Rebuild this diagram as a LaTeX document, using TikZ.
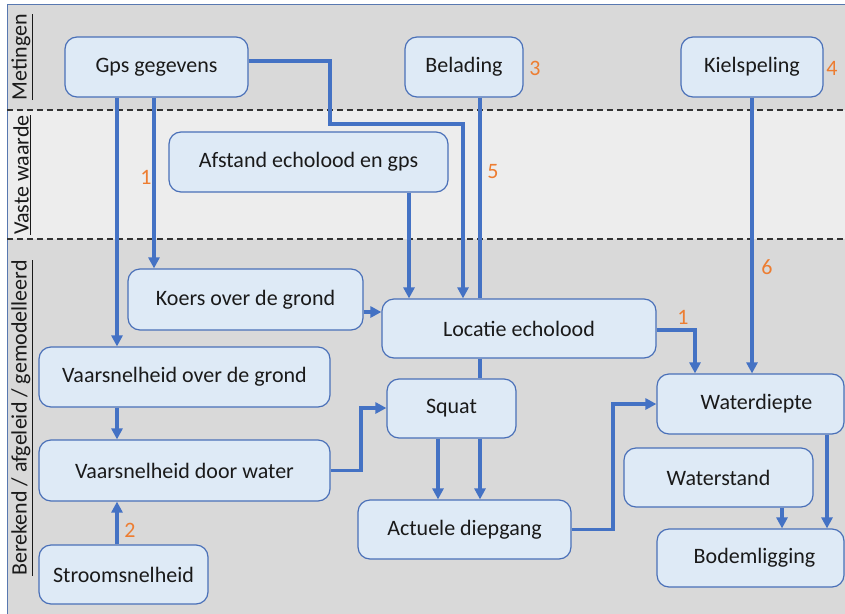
\documentclass[tikz,border=0pt]{standalone}
\usepackage{fontspec}
\setmainfont{Carlito}
\usepackage{xcolor}
\usetikzlibrary{arrows.meta}

\definecolor{bandgray}{HTML}{D9D9D9}
\definecolor{bandlight}{HTML}{EDEDED}
\definecolor{boxfill}{HTML}{DEEAF6}
\definecolor{boxline}{HTML}{4A70B8}
\definecolor{flowblue}{HTML}{4472C4}
\definecolor{numorange}{HTML}{ED7D31}
\definecolor{framecol}{HTML}{5878B0}
\definecolor{textdark}{HTML}{1A1A1A}

\begin{document}
\begin{tikzpicture}[x=1pt,y=-1pt,
  font=\fontsize{22}{26}\selectfont,
  stepbox/.style={draw=boxline,line width=1.2pt,fill=boxfill,rounded corners=12pt,
    text=textdark,inner sep=0pt,align=center},
  flow/.style={draw=flowblue,line width=3.2pt,-{Triangle[length=11pt,width=11pt]}},
  plainflow/.style={draw=flowblue,line width=3.2pt},
  num/.style={text=numorange,inner sep=0pt},
  bandlabel/.style={rotate=90,text=textdark,inner sep=0pt}]
\useasboundingbox (0,0) rectangle (845,613);
\clip (0,0) rectangle (845,613);

% Bands
\fill[bandgray] (7,4) rectangle (860,110);
\fill[bandlight] (7,110) rectangle (860,239);
\fill[bandgray] (7,239) rectangle (860,630);
\draw[framecol,line width=1pt] (7,630) -- (7,4) -- (860,4);
\draw[black!80,line width=1.2pt,dash pattern=on 6pt off 4pt] (7,110) -- (845,110);
\draw[black!80,line width=1.2pt,dash pattern=on 6pt off 4pt] (7,239) -- (845,239);

% Band labels
\node[bandlabel] (lmet) at (22,57) {\underline{Metingen}};
\node[bandlabel] (lvast) at (22,175) {\underline{Vaste waarde}};
\node[bandlabel] (lber) at (22,418) {\underline{Berekend / afgeleid / gemodelleerd}};

% Boxes
\node[stepbox,minimum width=183pt,minimum height=60pt] (gps) at (156.5,67) {Gps gegevens};
\node[stepbox,minimum width=118pt,minimum height=60pt] (bel) at (464,67) {Belading};
\node[stepbox,minimum width=142pt,minimum height=60pt] (kiel) at (752,67) {Kielspeling};
\node[stepbox,minimum width=279pt,minimum height=60pt] (afst) at (308.5,162) {Afstand echolood en gps};
\node[stepbox,minimum width=235pt,minimum height=61pt] (koers) at (245.5,299.5) {Koers over de grond};
\node[stepbox,minimum width=274pt,minimum height=59pt] (loc) at (519,328.5) {Locatie echolood};
\node[stepbox,minimum width=291pt,minimum height=60pt] (vog) at (184.5,377) {Vaarsnelheid over de grond};
\node[stepbox,minimum width=291pt,minimum height=61pt] (vdw) at (184.5,470.5) {Vaarsnelheid door water};
\node[stepbox,minimum width=169pt,minimum height=59pt] (stroom) at (123.5,574.5) {Stroomsnelheid};
\node[stepbox,minimum width=129pt,minimum height=59pt] (squat) at (451.5,408.5) {Squat};
\node[stepbox,minimum width=213pt,minimum height=59pt] (act) at (464.5,529.5) {Actuele diepgang};
\node[stepbox,minimum width=187pt,minimum height=60pt] (wd) at (750.5,404) {\hspace*{12pt}Waterdiepte};
\node[stepbox,minimum width=189pt,minimum height=59pt] (wst) at (718.5,477.5) {Waterstand};
\node[stepbox,minimum width=187pt,minimum height=58pt] (bodem) at (750.5,558) {\hspace*{8pt}Bodemligging};

% Connectors
\draw[flow] (gps.south -| 117,0) -- (vog.north -| 117,0);
\draw[flow] (gps.south -| 154,0) -- (koers.north -| 154,0);
\draw[flow] ([yshift=6pt]gps.east) -| (330,124) -| (loc.north -| 463,0);
\draw[plainflow] (bel.south -| 480,0) -- (loc.north -| 480,0);
\draw[plainflow] (loc.south -| 480,0) -- (squat.north -| 480,0);
\draw[flow] (squat.south -| 480,0) -- (act.north -| 480,0);
\draw[flow] (squat.south -| 438,0) -- (act.north -| 438,0);
\draw[flow] (afst.south -| 409,0) -- (loc.north -| 409,0);
\draw[flow] (koers.east |- 0,312) -- (loc.west |- 0,312);
\draw[flow] (kiel.south) -- (kiel.south |- wd.north);
\draw[flow] (loc.east |- 0,330) -| (wd.north -| 695,0);
\draw[flow] (vog.south -| 117,0) -- (vdw.north -| 117,0);
\draw[flow] (stroom.north -| 117,0) -- (vdw.south -| 117,0);
\draw[flow] (vdw.east) -| (361,408) -- (squat.west |- 0,408);
\draw[flow] (act.east) -| (613,404) -- (wd.west);
\draw[flow] (wd.south -| 827,0) -- (bodem.north -| 827,0);
\draw[flow] (wst.south -| 782,0) -- (bodem.north -| 782,0);

% Numbers
\node[num] (n1a) at (146,177) {1};
\node[num] (n5) at (493,172) {5};
\node[num] (n3) at (535,68) {3};
\node[num] (n4) at (832,68) {4};
\node[num] (n6) at (767,267) {6};
\node[num] (n1b) at (683,317) {1};
\node[num] (n2) at (130,530) {2};
\end{tikzpicture}
\end{document}
